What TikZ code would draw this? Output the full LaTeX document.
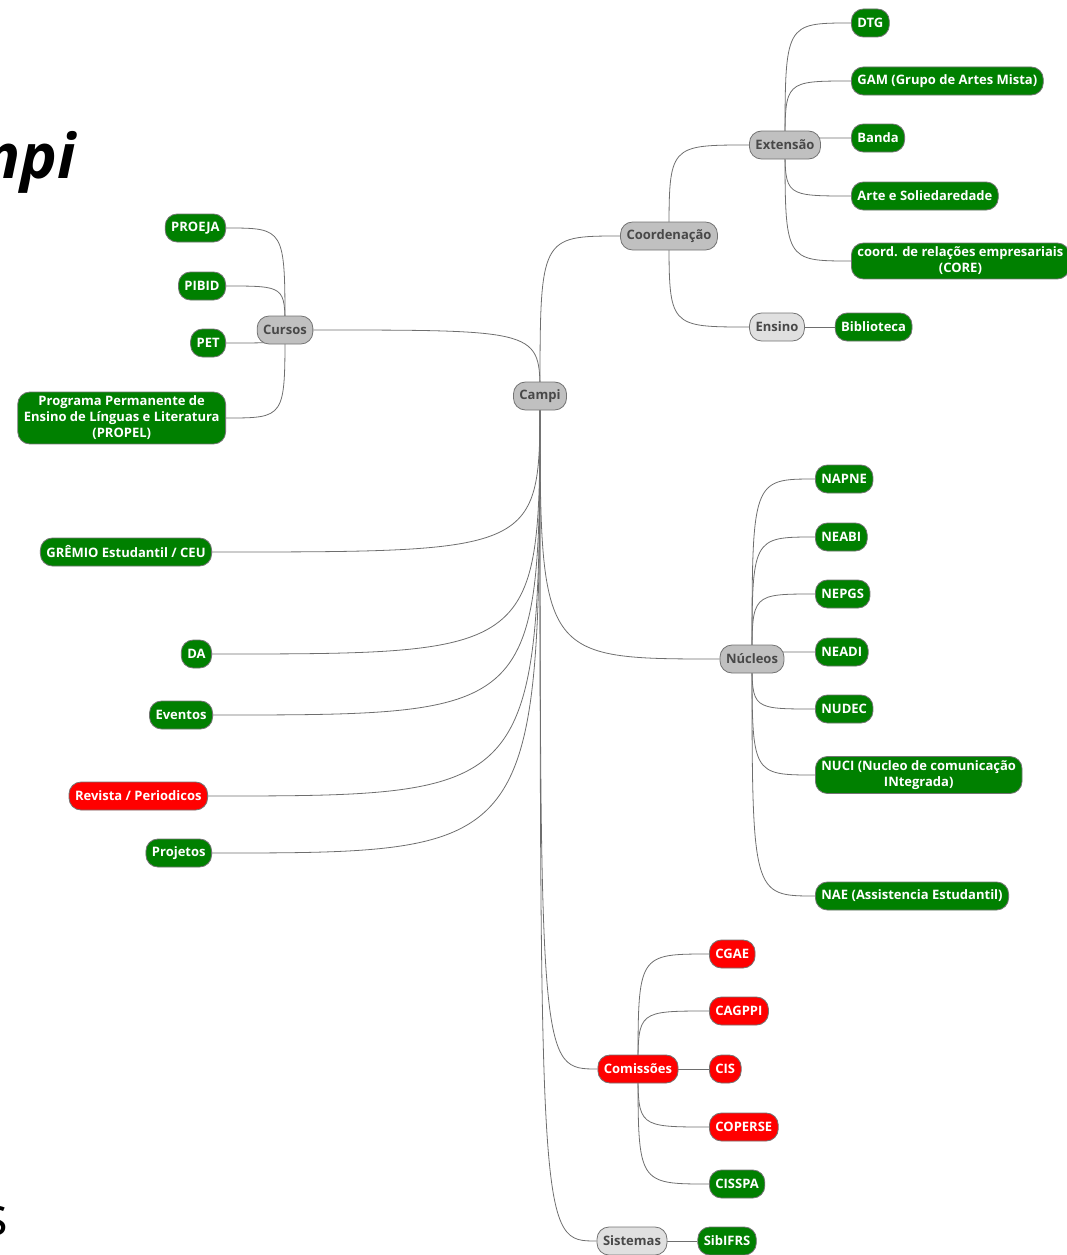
\documentclass[tikz,border=0pt]{standalone}
\usepackage{fontspec}
\setmainfont{Open Sans}
\usetikzlibrary{positioning,backgrounds}

\definecolor{leafgreen}{RGB}{0,128,0}
\definecolor{alertred}{RGB}{255,0,0}
\definecolor{hubgray}{RGB}{192,192,192}
\definecolor{softgray}{RGB}{224,224,224}
\definecolor{textgray}{RGB}{72,72,72}
\definecolor{linegray}{RGB}{110,110,110}

\begin{document}
\begin{tikzpicture}[x=1pt,y=-1pt,font=\bfseries\fontsize{13}{16}\selectfont]
\tikzstyle{topic}=[draw=black!55, line width=0.8pt, rounded corners=12pt, minimum height=28pt, inner xsep=6pt, inner ysep=4pt, align=center]
\tikzstyle{hub}=[topic, fill=hubgray, text=textgray]
\tikzstyle{soft}=[topic, fill=softgray, text=textgray]
\tikzstyle{leaf}=[topic, fill=leafgreen, text=white]
\tikzstyle{alert}=[topic, fill=alertred, text=white]
\tikzstyle{link}=[draw=linegray, line width=0.8pt]
\tikzstyle{branch}=[to path={.. controls (\tikztostart |- \tikztotarget) .. (\tikztotarget) \tikztonodes}]

  \useasboundingbox (0,0) rectangle (1066,1255);

  % title, cut by the page edge
  \node[anchor=base east, inner sep=0pt, font=\bfseries\itshape\fontsize{62}{70}\selectfont] (title) at (76,178) {mpi};
  \node[anchor=base east, inner sep=0pt, font=\mdseries\upshape\fontsize{54}{60}\selectfont] (tail) at (8,1235) {s};

  % hubs
  \node[hub]   (campi)   at (540,396)  {Campi};
  \node[hub]   (coord)   at (669,236)  {Coordenação};
  \node[hub]   (ext)     at (785,145)  {Extensão};
  \node[soft]  (ensino)  at (777,327)  {Ensino};
  \node[hub]   (cursos)  at (285,330)  {Cursos};
  \node[hub]   (nucleos) at (752,659)  {Núcleos};
  \node[alert] (comis)   at (638,1069) {Comissões};
  \node[soft]  (sist)    at (632,1241) {Sistemas};

  % Extensao / Ensino
  \node[leaf, anchor=west] (dtg)    at (851,23)  {DTG};
  \node[leaf, anchor=west] (gam)    at (851,81)  {GAM (Grupo de Artes Mista)};
  \node[leaf, anchor=west] (banda)  at (851,138) {Banda};
  \node[leaf, anchor=west] (arte)   at (851,196) {Arte e Soliedaredade};
  \node[leaf, anchor=west] (core)   at (851,261) {coord. de relações empresariais\\(CORE)};
  \node[leaf, right=30pt of ensino] (biblio) {Biblioteca};

  % Cursos
  \node[leaf, anchor=east] (proeja) at (226,228) {PROEJA};
  \node[leaf, anchor=east] (pibid)  at (226,286) {PIBID};
  \node[leaf, anchor=east] (pet)    at (226,343) {PET};
  \node[leaf, anchor=east] (propel) at (226,418) {Programa Permanente de\\Ensino de Línguas e Literatura\\(PROPEL)};

  % left of Campi
  \node[leaf,  anchor=east] (gremio)   at (212,552) {GRÊMIO Estudantil / CEU};
  \node[leaf,  anchor=east] (da)       at (212,654) {DA};
  \node[leaf,  anchor=east] (eventos)  at (213,715) {Eventos};
  \node[alert, anchor=east] (revista)  at (208,796) {Revista / Periodicos};
  \node[leaf,  anchor=east] (projetos) at (212,853) {Projetos};

  % Nucleos
  \node[leaf, anchor=west] (napne) at (815,479) {NAPNE};
  \node[leaf, anchor=west] (neabi) at (815,537) {NEABI};
  \node[leaf, anchor=west] (nepgs) at (815,594) {NEPGS};
  \node[leaf, anchor=west] (neadi) at (815,652) {NEADI};
  \node[leaf, anchor=west] (nudec) at (815,709) {NUDEC};
  \node[leaf, anchor=west] (nuci)  at (815,775) {NUCI (Nucleo de comunicação\\INtegrada)};
  \node[leaf, anchor=west] (nae)   at (815,896) {NAE (Assistencia Estudantil)};

  % Comissoes / Sistemas
  \node[alert, anchor=west] (cgae)    at (709,954)  {CGAE};
  \node[alert, anchor=west] (cagppi)  at (709,1011) {CAGPPI};
  \node[alert, anchor=west] (cis)     at (709,1069) {CIS};
  \node[alert, anchor=west] (coperse) at (709,1127) {COPERSE};
  \node[leaf,  anchor=west] (cisspa)  at (709,1184) {CISSPA};
  \node[leaf, right=30pt of sist] (sib) {SibIFRS};

  \begin{scope}[on background layer]
  \path[link] (campi.center) edge[branch] (coord.west)
                             edge[branch] (cursos.east)
                             edge[branch] (gremio.east)
                             edge[branch] (da.east)
                             edge[branch] (eventos.east)
                             edge[branch] (revista.east)
                             edge[branch] (projetos.east)
                             edge[branch] (nucleos.west)
                             edge[branch] (comis.west)
                             edge[branch] (sist.west)
              (coord.center) edge[branch] (ext.west)
                             edge[branch] (ensino.west)
              (ext.center)   edge[branch] (dtg.west)
                             edge[branch] (gam.west)
                             edge[branch] (banda.west)
                             edge[branch] (arte.west)
                             edge[branch] (core.west)
              (ensino)       edge (biblio)
              (cursos.center) edge[branch] (proeja.east)
                             edge[branch] (pibid.east)
                             edge[branch] (pet.east)
                             edge[branch] (propel.east)
              (nucleos.center) edge[branch] (napne.west)
                             edge[branch] (neabi.west)
                             edge[branch] (nepgs.west)
                             edge[branch] (neadi.west)
                             edge[branch] (nudec.west)
                             edge[branch] (nuci.west)
                             edge[branch] (nae.west)
              (comis.center) edge[branch] (cgae.west)
                             edge[branch] (cagppi.west)
                             edge[branch] (cis.west)
                             edge[branch] (coperse.west)
                             edge[branch] (cisspa.west)
              (sist)         edge (sib);
  \end{scope}
\end{tikzpicture}
\end{document}
